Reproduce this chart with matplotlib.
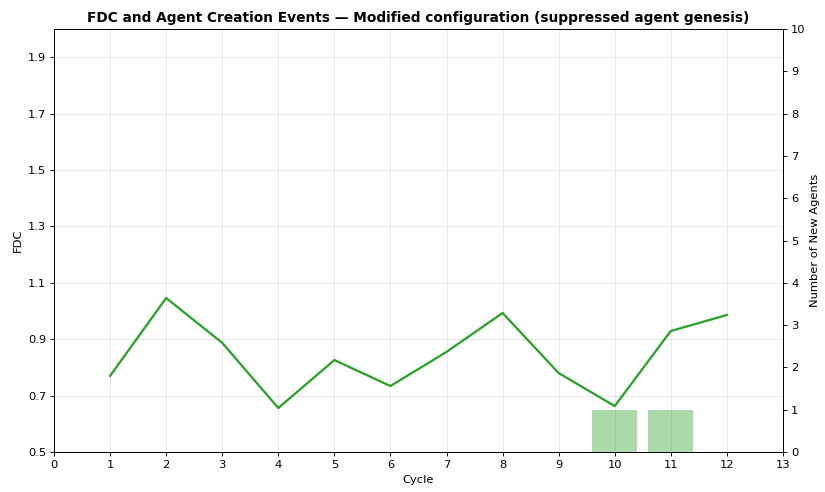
import matplotlib.pyplot as plt

cycles = [1, 2, 3, 4, 5, 6, 7, 8, 9, 10, 11, 12]
fdc = [0.77, 1.046, 0.887, 0.656, 0.826, 0.734, 0.855, 0.993, 0.78, 0.663, 0.929, 0.986]
event_cycles = [10, 11]
new_agents = [1, 1]

fig, ax = plt.subplots(figsize=(10, 492 / 82.5), dpi=82.5)
fig.subplots_adjust(left=0.0655, right=0.949, top=0.941, bottom=0.0813)

ax.plot(cycles, fdc, color='#2ca02c', linewidth=2, zorder=3)
ax.set_xlim(0, 13)
ax.set_ylim(0.5, 2.0)
ax.set_xticks(range(0, 14))
ax.set_yticks([0.5, 0.7, 0.9, 1.1, 1.3, 1.5, 1.7, 1.9])
ax.set_xlabel('Cycle')
ax.set_ylabel('FDC')
ax.grid(True, alpha=0.3)
ax.set_title('FDC and Agent Creation Events — Modified configuration (suppressed agent genesis)',
             fontweight='bold')

ax2 = ax.twinx()
ax2.bar(event_cycles, new_agents, width=0.8, color='#2ca02c', alpha=0.4)
ax2.set_ylim(0, 10)
ax2.set_yticks(range(0, 11))
ax2.set_ylabel('Number of New Agents')

plt.savefig('out.png')
